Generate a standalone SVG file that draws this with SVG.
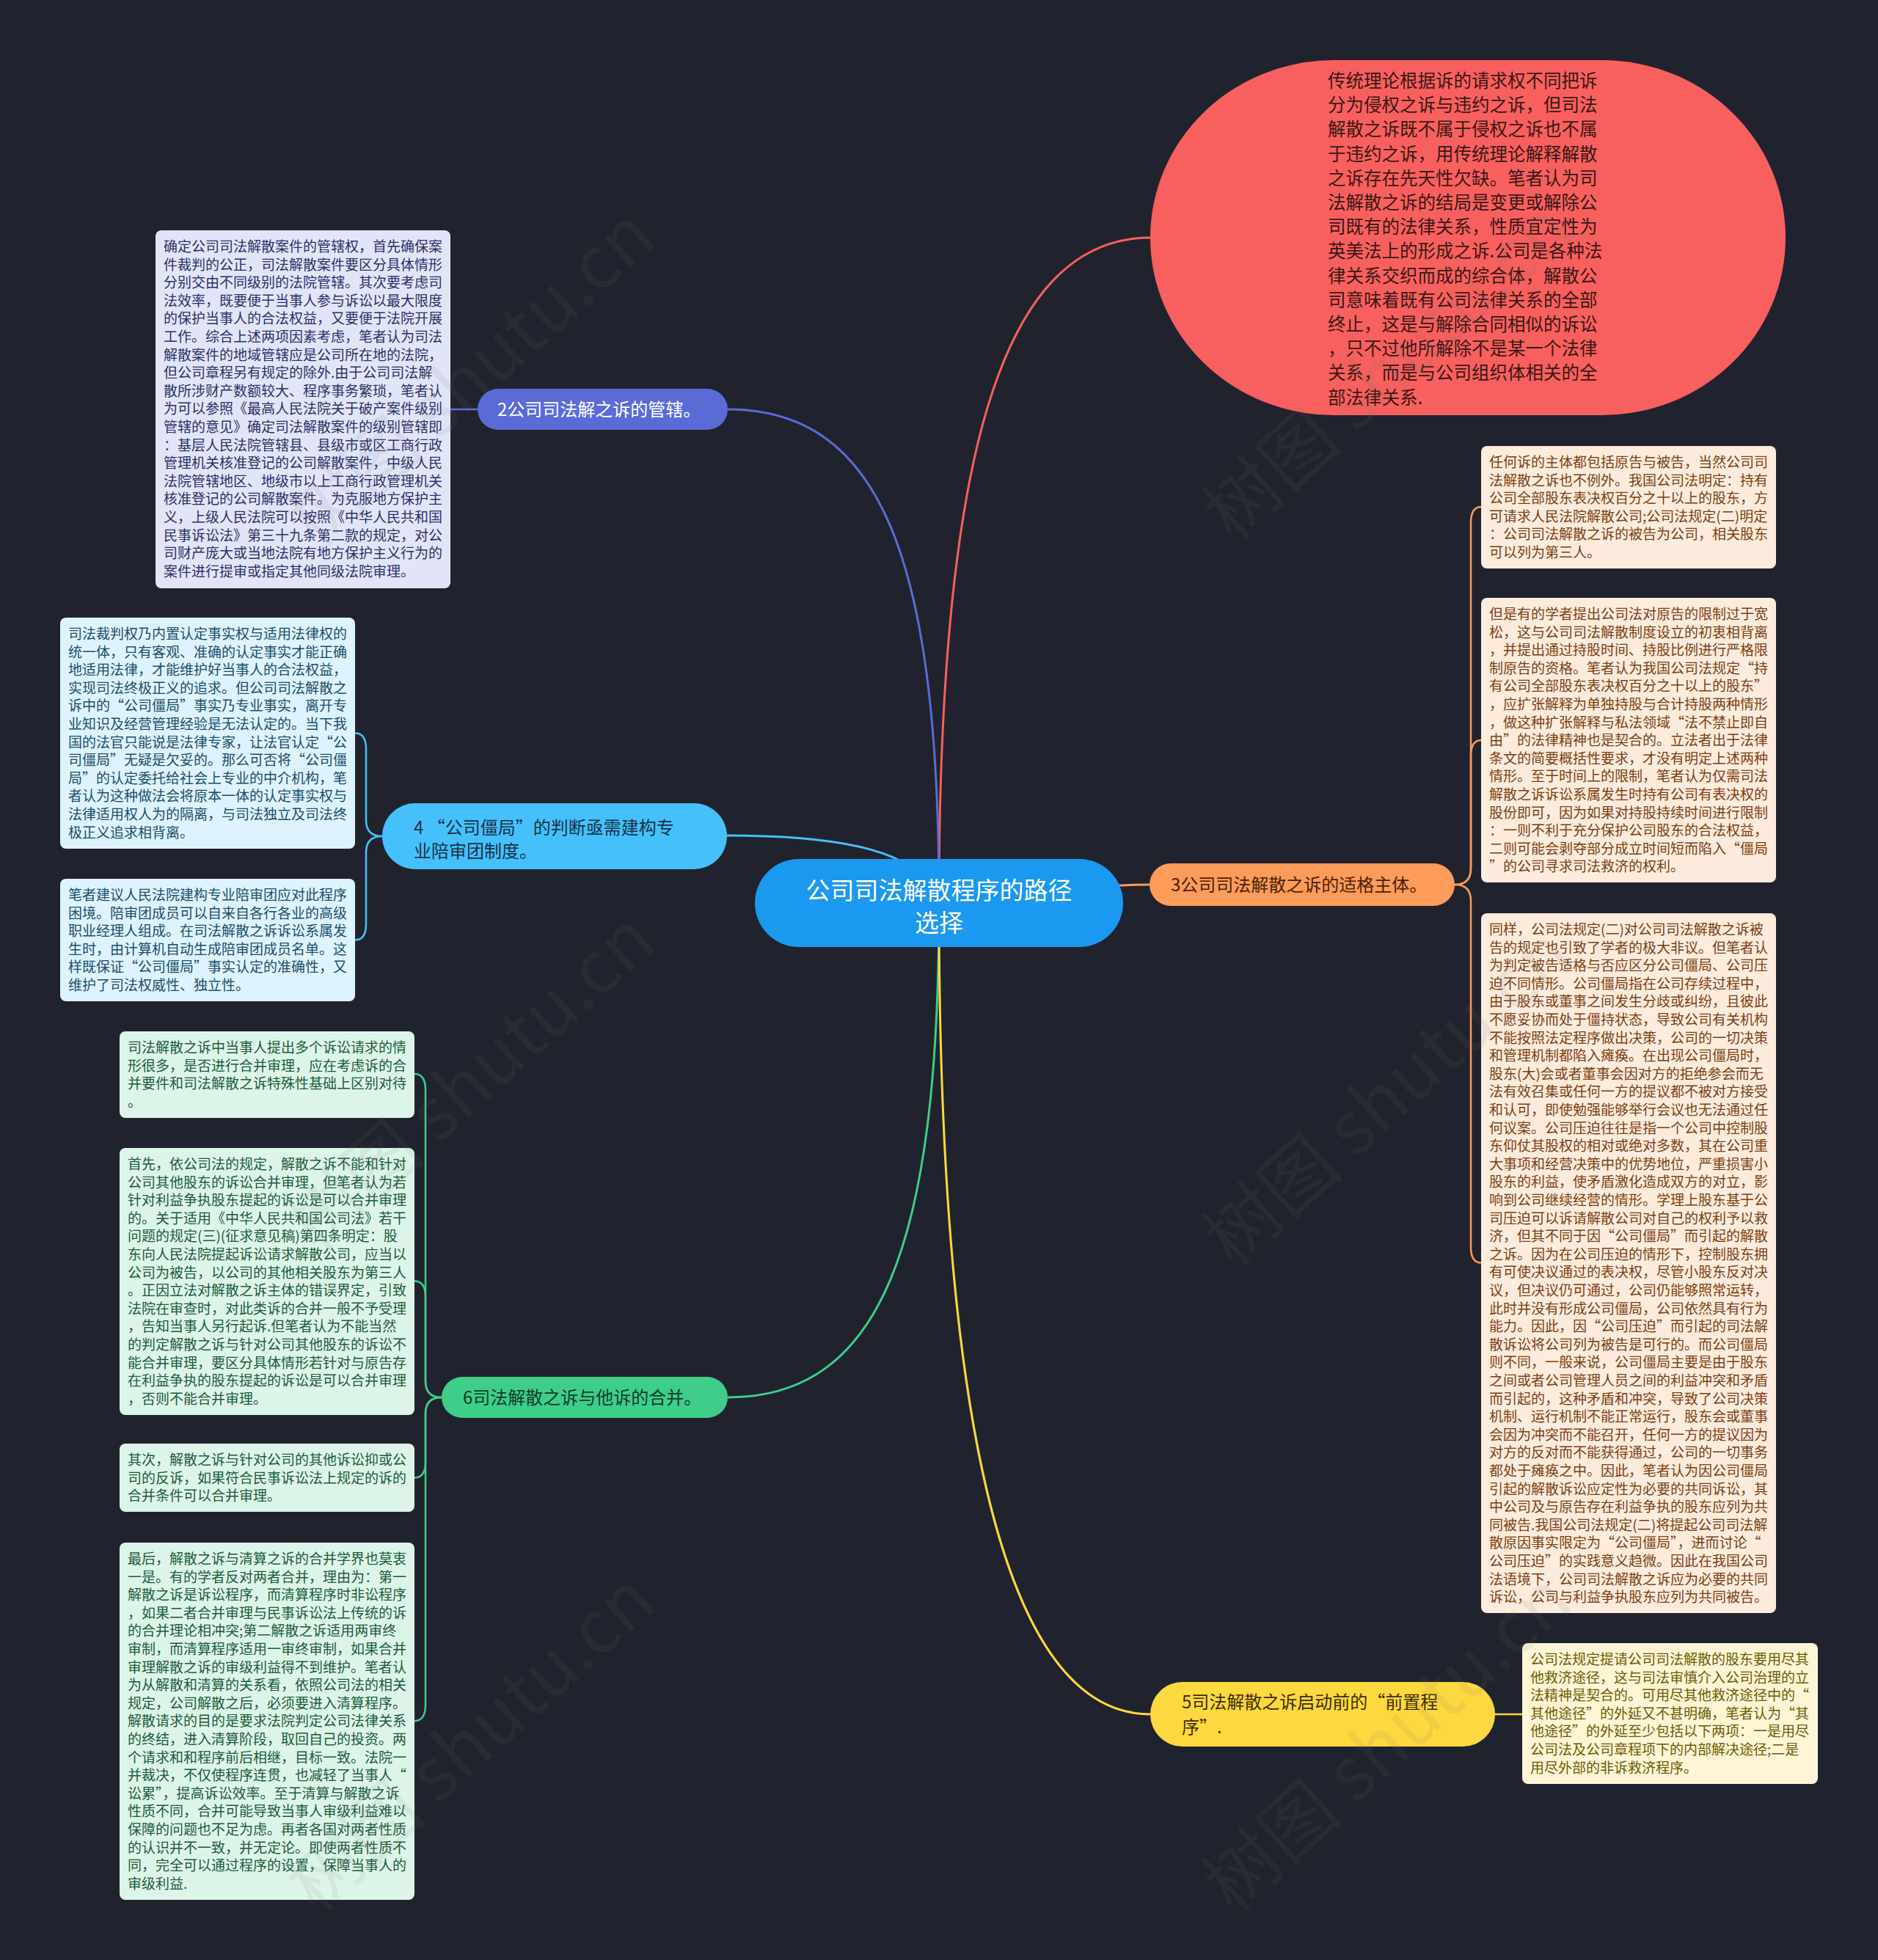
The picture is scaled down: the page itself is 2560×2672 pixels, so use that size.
<svg xmlns="http://www.w3.org/2000/svg" width="2560" height="2672" viewBox="0 0 2560 2672">
<style>
text{font-family:"Noto Sans CJK SC","Liberation Sans",sans-serif;}
.c{fill:none;stroke-width:3;stroke-linecap:round}
.s{fill:none;stroke-width:2.5;stroke-linecap:round}
.nt{font-size:19px}
.bt{font-size:24px}
.wm{font-size:100px;fill:#7a7a7a;fill-opacity:0.1;font-family:"Noto Sans CJK SC","Liberation Sans",sans-serif}
</style>
<rect x="0" y="0" width="2560" height="2672" fill="#20232d"/>
<g id="connectors">
<path class="c" stroke="#f7605e" d="M1280,1231 C1280,640 1360,324 1568,324"/>
<path class="c" stroke="#5b6bd5" d="M1280,1231 C1280,760 1200,558 992,558"/>
<path class="c" stroke="#45c0fb" d="M1280,1231 C1260,1160 1150,1139 991,1139"/>
<path class="c" stroke="#fd9b5a" d="M1280,1231 C1400,1231 1450,1206 1567,1206"/>
<path class="c" stroke="#3fcd8a" d="M1280,1231 C1280,1700 1200,1905 992,1905"/>
<path class="c" stroke="#fdd83e" d="M1280,1231 C1280,1980 1380,2337 1568,2337"/>
<path class="s" stroke="#5b6bd5" d="M651,558 L614,558"/>
<path class="s" stroke="#45c0fb" d="M521,1140 Q499,1140 499,1118 L499,1021 Q499,999.5 484,999.5"/>
<path class="s" stroke="#45c0fb" d="M521,1140 Q499,1140 499,1162 L499,1260 Q499,1281.5 484,1281.5"/>
<path class="s" stroke="#3fcd8a" d="M602,1905 Q580,1905 580,1883 L580,1486 Q580,1464 565,1464"/>
<path class="s" stroke="#3fcd8a" d="M602,1905 Q580,1905 580,1883 L580,1768 Q580,1746.5 565,1746.5"/>
<path class="s" stroke="#3fcd8a" d="M602,1905 Q580,1905 580,1927 L580,1993 Q580,2014.5 565,2014.5"/>
<path class="s" stroke="#3fcd8a" d="M602,1905 Q580,1905 580,1927 L580,2324 Q580,2346 565,2346"/>
<path class="s" stroke="#fd9b5a" d="M1983,1206 Q2005,1206 2005,1184 L2005,713 Q2005,691 2019,691"/>
<path class="s" stroke="#fd9b5a" d="M1983,1206 Q2005,1206 2005,1184 L2005,1031 Q2005,1009 2019,1009"/>
<path class="s" stroke="#fd9b5a" d="M1983,1206 Q2005,1206 2005,1228 L2005,1700 Q2005,1721.5 2019,1721.5"/>
<path class="s" stroke="#fdd83e" d="M2038,2337 L2075,2337"/>
</g>

<g id="center">
<rect x="1029" y="1171" width="502" height="120" rx="60" fill="#1b98ef"/>
<text x="1280" y="1226" font-size="33" fill="#ffffff" text-anchor="middle">公司司法解散程序的路径</text>
<text x="1280" y="1270" font-size="33" fill="#ffffff" text-anchor="middle">选择</text>
</g>

<g id="node-1">
<rect x="1568" y="82" width="866" height="484" rx="250" ry="242" fill="#f7605e"/>
<text x="1810" y="119" font-size="24.5" fill="#3a1616"><tspan x="1810">传统理论根据诉的请求权不同把诉</tspan><tspan x="1810" dy="33.2">分为侵权之诉与违约之诉，但司法</tspan><tspan x="1810" dy="33.2">解散之诉既不属于侵权之诉也不属</tspan><tspan x="1810" dy="33.2">于违约之诉，用传统理论解释解散</tspan><tspan x="1810" dy="33.2">之诉存在先天性欠缺。笔者认为司</tspan><tspan x="1810" dy="33.2">法解散之诉的结局是变更或解除公</tspan><tspan x="1810" dy="33.2">司既有的法律关系，性质宜定性为</tspan><tspan x="1810" dy="33.2">英美法上的形成之诉.公司是各种法</tspan><tspan x="1810" dy="33.2">律关系交织而成的综合体，解散公</tspan><tspan x="1810" dy="33.2">司意味着既有公司法律关系的全部</tspan><tspan x="1810" dy="33.2">终止，这是与解除合同相似的诉讼</tspan><tspan x="1810" dy="33.2">，只不过他所解除不是某一个法律</tspan><tspan x="1810" dy="33.2">关系，而是与公司组织体相关的全</tspan><tspan x="1810" dy="33.2">部法律关系.</tspan></text>
</g>

<g id="node-2">
<rect x="651" y="530" width="341" height="56" rx="28" fill="#5b6bd5"/>
<text class="bt" x="678" y="567" fill="#ffffff">2公司司法解之诉的管辖。</text>
</g>
<g id="note-2a">
<rect x="212" y="314" width="402" height="488" rx="8" fill="#e2e5f8"/>
<text class="nt" x="223" y="343" fill="#2b3066"><tspan x="223">确定公司司法解散案件的管辖权，首先确保案</tspan><tspan x="223" dy="24.6">件裁判的公正，司法解散案件要区分具体情形</tspan><tspan x="223" dy="24.6">分别交由不同级别的法院管辖。其次要考虑司</tspan><tspan x="223" dy="24.6">法效率，既要便于当事人参与诉讼以最大限度</tspan><tspan x="223" dy="24.6">的保护当事人的合法权益，又要便于法院开展</tspan><tspan x="223" dy="24.6">工作。综合上述两项因素考虑，笔者认为司法</tspan><tspan x="223" dy="24.6">解散案件的地域管辖应是公司所在地的法院，</tspan><tspan x="223" dy="24.6">但公司章程另有规定的除外.由于公司司法解</tspan><tspan x="223" dy="24.6">散所涉财产数额较大、程序事务繁琐，笔者认</tspan><tspan x="223" dy="24.6">为可以参照《最高人民法院关于破产案件级别</tspan><tspan x="223" dy="24.6">管辖的意见》确定司法解散案件的级别管辖即</tspan><tspan x="223" dy="24.6">：基层人民法院管辖县、县级市或区工商行政</tspan><tspan x="223" dy="24.6">管理机关核准登记的公司解散案件，中级人民</tspan><tspan x="223" dy="24.6">法院管辖地区、地级市以上工商行政管理机关</tspan><tspan x="223" dy="24.6">核准登记的公司解散案件。为克服地方保护主</tspan><tspan x="223" dy="24.6">义，上级人民法院可以按照《中华人民共和国</tspan><tspan x="223" dy="24.6">民事诉讼法》第三十九条第二款的规定，对公</tspan><tspan x="223" dy="24.6">司财产庞大或当地法院有地方保护主义行为的</tspan><tspan x="223" dy="24.6">案件进行提审或指定其他同级法院审理。</tspan></text>
</g>

<g id="node-4">
<rect x="521" y="1095" width="470" height="90" rx="45" fill="#45c0fb"/>
<text class="bt" x="564" y="1137" fill="#16324a"><tspan x="564">4 “公司僵局”的判断亟需建构专</tspan><tspan x="564" dy="32">业陪审团制度。</tspan></text>
</g>
<g id="note-4a">
<rect x="82" y="842" width="402" height="315" rx="8" fill="#def3fd"/>
<text class="nt" x="93" y="871" fill="#1b4d6b"><tspan x="93">司法裁判权乃内置认定事实权与适用法律权的</tspan><tspan x="93" dy="24.6">统一体，只有客观、准确的认定事实才能正确</tspan><tspan x="93" dy="24.6">地适用法律，才能维护好当事人的合法权益，</tspan><tspan x="93" dy="24.6">实现司法终极正义的追求。但公司司法解散之</tspan><tspan x="93" dy="24.6">诉中的“公司僵局”事实乃专业事实，离开专</tspan><tspan x="93" dy="24.6">业知识及经营管理经验是无法认定的。当下我</tspan><tspan x="93" dy="24.6">国的法官只能说是法律专家，让法官认定“公</tspan><tspan x="93" dy="24.6">司僵局”无疑是欠妥的。那么可否将“公司僵</tspan><tspan x="93" dy="24.6">局”的认定委托给社会上专业的中介机构，笔</tspan><tspan x="93" dy="24.6">者认为这种做法会将原本一体的认定事实权与</tspan><tspan x="93" dy="24.6">法律适用权人为的隔离，与司法独立及司法终</tspan><tspan x="93" dy="24.6">极正义追求相背离。</tspan></text>
</g>
<g id="note-4b">
<rect x="82" y="1198" width="402" height="167" rx="8" fill="#def3fd"/>
<text class="nt" x="93" y="1227" fill="#1b4d6b"><tspan x="93">笔者建议人民法院建构专业陪审团应对此程序</tspan><tspan x="93" dy="24.6">困境。陪审团成员可以自来自各行各业的高级</tspan><tspan x="93" dy="24.6">职业经理人组成。在司法解散之诉诉讼系属发</tspan><tspan x="93" dy="24.6">生时，由计算机自动生成陪审团成员名单。这</tspan><tspan x="93" dy="24.6">样既保证“公司僵局”事实认定的准确性，又</tspan><tspan x="93" dy="24.6">维护了司法权威性、独立性。</tspan></text>
</g>

<g id="node-3">
<rect x="1567" y="1177" width="416" height="58" rx="29" fill="#fd9b5a"/>
<text class="bt" x="1596" y="1215" fill="#4a2208">3公司司法解散之诉的适格主体。</text>
</g>
<g id="note-3a">
<rect x="2019" y="608" width="402" height="167" rx="8" fill="#fdebdd"/>
<text class="nt" x="2030" y="637" fill="#7b3f12"><tspan x="2030">任何诉的主体都包括原告与被告，当然公司司</tspan><tspan x="2030" dy="24.6">法解散之诉也不例外。我国公司法明定：持有</tspan><tspan x="2030" dy="24.6">公司全部股东表决权百分之十以上的股东，方</tspan><tspan x="2030" dy="24.6">可请求人民法院解散公司;公司法规定(二)明定</tspan><tspan x="2030" dy="24.6">：公司司法解散之诉的被告为公司，相关股东</tspan><tspan x="2030" dy="24.6">可以列为第三人。</tspan></text>
</g>
<g id="note-3b">
<rect x="2019" y="815" width="402" height="388" rx="8" fill="#fdebdd"/>
<text class="nt" x="2030" y="844" fill="#7b3f12"><tspan x="2030">但是有的学者提出公司法对原告的限制过于宽</tspan><tspan x="2030" dy="24.6">松，这与公司司法解散制度设立的初衷相背离</tspan><tspan x="2030" dy="24.6">，并提出通过持股时间、持股比例进行严格限</tspan><tspan x="2030" dy="24.6">制原告的资格。笔者认为我国公司法规定“持</tspan><tspan x="2030" dy="24.6">有公司全部股东表决权百分之十以上的股东”</tspan><tspan x="2030" dy="24.6">，应扩张解释为单独持股与合计持股两种情形</tspan><tspan x="2030" dy="24.6">，做这种扩张解释与私法领域“法不禁止即自</tspan><tspan x="2030" dy="24.6">由”的法律精神也是契合的。立法者出于法律</tspan><tspan x="2030" dy="24.6">条文的简要概括性要求，才没有明定上述两种</tspan><tspan x="2030" dy="24.6">情形。至于时间上的限制，笔者认为仅需司法</tspan><tspan x="2030" dy="24.6">解散之诉诉讼系属发生时持有公司有表决权的</tspan><tspan x="2030" dy="24.6">股份即可，因为如果对持股持续时间进行限制</tspan><tspan x="2030" dy="24.6">：一则不利于充分保护公司股东的合法权益，</tspan><tspan x="2030" dy="24.6">二则可能会剥夺部分成立时间短而陷入“僵局</tspan><tspan x="2030" dy="24.6">”的公司寻求司法救济的权利。</tspan></text>
</g>
<g id="note-3c">
<rect x="2019" y="1245" width="402" height="954" rx="8" fill="#fdebdd"/>
<text class="nt" x="2030" y="1274" fill="#7b3f12"><tspan x="2030">同样，公司法规定(二)对公司司法解散之诉被</tspan><tspan x="2030" dy="24.6">告的规定也引致了学者的极大非议。但笔者认</tspan><tspan x="2030" dy="24.6">为判定被告适格与否应区分公司僵局、公司压</tspan><tspan x="2030" dy="24.6">迫不同情形。公司僵局指在公司存续过程中，</tspan><tspan x="2030" dy="24.6">由于股东或董事之间发生分歧或纠纷，且彼此</tspan><tspan x="2030" dy="24.6">不愿妥协而处于僵持状态，导致公司有关机构</tspan><tspan x="2030" dy="24.6">不能按照法定程序做出决策，公司的一切决策</tspan><tspan x="2030" dy="24.6">和管理机制都陷入瘫痪。在出现公司僵局时，</tspan><tspan x="2030" dy="24.6">股东(大)会或者董事会因对方的拒绝参会而无</tspan><tspan x="2030" dy="24.6">法有效召集或任何一方的提议都不被对方接受</tspan><tspan x="2030" dy="24.6">和认可，即使勉强能够举行会议也无法通过任</tspan><tspan x="2030" dy="24.6">何议案。公司压迫往往是指一个公司中控制股</tspan><tspan x="2030" dy="24.6">东仰仗其股权的相对或绝对多数，其在公司重</tspan><tspan x="2030" dy="24.6">大事项和经营决策中的优势地位，严重损害小</tspan><tspan x="2030" dy="24.6">股东的利益，使矛盾激化造成双方的对立，影</tspan><tspan x="2030" dy="24.6">响到公司继续经营的情形。学理上股东基于公</tspan><tspan x="2030" dy="24.6">司压迫可以诉请解散公司对自己的权利予以救</tspan><tspan x="2030" dy="24.6">济，但其不同于因“公司僵局”而引起的解散</tspan><tspan x="2030" dy="24.6">之诉。因为在公司压迫的情形下，控制股东拥</tspan><tspan x="2030" dy="24.6">有可使决议通过的表决权，尽管小股东反对决</tspan><tspan x="2030" dy="24.6">议，但决议仍可通过，公司仍能够照常运转，</tspan><tspan x="2030" dy="24.6">此时并没有形成公司僵局，公司依然具有行为</tspan><tspan x="2030" dy="24.6">能力。因此，因“公司压迫”而引起的司法解</tspan><tspan x="2030" dy="24.6">散诉讼将公司列为被告是可行的。而公司僵局</tspan><tspan x="2030" dy="24.6">则不同，一般来说，公司僵局主要是由于股东</tspan><tspan x="2030" dy="24.6">之间或者公司管理人员之间的利益冲突和矛盾</tspan><tspan x="2030" dy="24.6">而引起的，这种矛盾和冲突，导致了公司决策</tspan><tspan x="2030" dy="24.6">机制、运行机制不能正常运行，股东会或董事</tspan><tspan x="2030" dy="24.6">会因为冲突而不能召开，任何一方的提议因为</tspan><tspan x="2030" dy="24.6">对方的反对而不能获得通过，公司的一切事务</tspan><tspan x="2030" dy="24.6">都处于瘫痪之中。因此，笔者认为因公司僵局</tspan><tspan x="2030" dy="24.6">引起的解散诉讼应定性为必要的共同诉讼，其</tspan><tspan x="2030" dy="24.6">中公司及与原告存在利益争执的股东应列为共</tspan><tspan x="2030" dy="24.6">同被告.我国公司法规定(二)将提起公司司法解</tspan><tspan x="2030" dy="24.6">散原因事实限定为“公司僵局”，进而讨论“</tspan><tspan x="2030" dy="24.6">公司压迫”的实践意义趋微。因此在我国公司</tspan><tspan x="2030" dy="24.6">法语境下，公司司法解散之诉应为必要的共同</tspan><tspan x="2030" dy="24.6">诉讼，公司与利益争执股东应列为共同被告。</tspan></text>
</g>

<g id="node-5">
<rect x="1568" y="2293" width="470" height="88" rx="44" fill="#fdd83e"/>
<text class="bt" x="1611" y="2329" fill="#3d3000"><tspan x="1611">5司法解散之诉启动前的“前置程</tspan><tspan x="1611" dy="34">序”.</tspan></text>
</g>
<g id="note-5a">
<rect x="2075" y="2240" width="403" height="192" rx="8" fill="#fdf5d6"/>
<text class="nt" x="2086" y="2269" fill="#6b5b05"><tspan x="2086">公司法规定提请公司司法解散的股东要用尽其</tspan><tspan x="2086" dy="24.6">他救济途径，这与司法审慎介入公司治理的立</tspan><tspan x="2086" dy="24.6">法精神是契合的。可用尽其他救济途径中的“</tspan><tspan x="2086" dy="24.6">其他途径”的外延又不甚明确，笔者认为“其</tspan><tspan x="2086" dy="24.6">他途径”的外延至少包括以下两项：一是用尽</tspan><tspan x="2086" dy="24.6">公司法及公司章程项下的内部解决途径;二是</tspan><tspan x="2086" dy="24.6">用尽外部的非诉救济程序。</tspan></text>
</g>

<g id="node-6">
<rect x="602" y="1877" width="390" height="56" rx="28" fill="#3fcd8a"/>
<text class="bt" x="631" y="1914" fill="#0e3d25">6司法解散之诉与他诉的合并。</text>
</g>
<g id="note-6a">
<rect x="163" y="1406" width="402" height="118" rx="8" fill="#ddf5e8"/>
<text class="nt" x="174" y="1435" fill="#1c5a3a"><tspan x="174">司法解散之诉中当事人提出多个诉讼请求的情</tspan><tspan x="174" dy="24.6">形很多，是否进行合并审理，应在考虑诉的合</tspan><tspan x="174" dy="24.6">并要件和司法解散之诉特殊性基础上区别对待</tspan><tspan x="174" dy="24.6">。</tspan></text>
</g>
<g id="note-6b">
<rect x="163" y="1565" width="402" height="364" rx="8" fill="#ddf5e8"/>
<text class="nt" x="174" y="1594" fill="#1c5a3a"><tspan x="174">首先，依公司法的规定，解散之诉不能和针对</tspan><tspan x="174" dy="24.6">公司其他股东的诉讼合并审理，但笔者认为若</tspan><tspan x="174" dy="24.6">针对利益争执股东提起的诉讼是可以合并审理</tspan><tspan x="174" dy="24.6">的。关于适用《中华人民共和国公司法》若干</tspan><tspan x="174" dy="24.6">问题的规定(三)(征求意见稿)第四条明定：股</tspan><tspan x="174" dy="24.6">东向人民法院提起诉讼请求解散公司，应当以</tspan><tspan x="174" dy="24.6">公司为被告，以公司的其他相关股东为第三人</tspan><tspan x="174" dy="24.6">。正因立法对解散之诉主体的错误界定，引致</tspan><tspan x="174" dy="24.6">法院在审查时，对此类诉的合并一般不予受理</tspan><tspan x="174" dy="24.6">，告知当事人另行起诉.但笔者认为不能当然</tspan><tspan x="174" dy="24.6">的判定解散之诉与针对公司其他股东的诉讼不</tspan><tspan x="174" dy="24.6">能合并审理，要区分具体情形若针对与原告存</tspan><tspan x="174" dy="24.6">在利益争执的股东提起的诉讼是可以合并审理</tspan><tspan x="174" dy="24.6">，否则不能合并审理。</tspan></text>
</g>
<g id="note-6c">
<rect x="163" y="1968" width="402" height="93" rx="8" fill="#ddf5e8"/>
<text class="nt" x="174" y="1997" fill="#1c5a3a"><tspan x="174">其次，解散之诉与针对公司的其他诉讼抑或公</tspan><tspan x="174" dy="24.6">司的反诉，如果符合民事诉讼法上规定的诉的</tspan><tspan x="174" dy="24.6">合并条件可以合并审理。</tspan></text>
</g>
<g id="note-6d">
<rect x="163" y="2103" width="402" height="487" rx="8" fill="#ddf5e8"/>
<text class="nt" x="174" y="2132" fill="#1c5a3a"><tspan x="174">最后，解散之诉与清算之诉的合并学界也莫衷</tspan><tspan x="174" dy="24.6">一是。有的学者反对两者合并，理由为：第一</tspan><tspan x="174" dy="24.6">解散之诉是诉讼程序，而清算程序时非讼程序</tspan><tspan x="174" dy="24.6">，如果二者合并审理与民事诉讼法上传统的诉</tspan><tspan x="174" dy="24.6">的合并理论相冲突;第二解散之诉适用两审终</tspan><tspan x="174" dy="24.6">审制，而清算程序适用一审终审制，如果合并</tspan><tspan x="174" dy="24.6">审理解散之诉的审级利益得不到维护。笔者认</tspan><tspan x="174" dy="24.6">为从解散和清算的关系看，依照公司法的相关</tspan><tspan x="174" dy="24.6">规定，公司解散之后，必须要进入清算程序。</tspan><tspan x="174" dy="24.6">解散请求的目的是要求法院判定公司法律关系</tspan><tspan x="174" dy="24.6">的终结，进入清算阶段，取回自己的投资。两</tspan><tspan x="174" dy="24.6">个请求和和程序前后相继，目标一致。法院一</tspan><tspan x="174" dy="24.6">并裁决，不仅使程序连贯，也减轻了当事人“</tspan><tspan x="174" dy="24.6">讼累”，提高诉讼效率。至于清算与解散之诉</tspan><tspan x="174" dy="24.6">性质不同，合并可能导致当事人审级利益难以</tspan><tspan x="174" dy="24.6">保障的问题也不足为虑。再者各国对两者性质</tspan><tspan x="174" dy="24.6">的认识并不一致，并无定论。即使两者性质不</tspan><tspan x="174" dy="24.6">同，完全可以通过程序的设置，保障当事人的</tspan><tspan x="174" dy="24.6">审级利益.</tspan></text>
</g>

<g id="watermarks">
<text class="wm" x="665" y="540" text-anchor="middle" transform="rotate(-42 665 540)">树图 shutu.cn</text>
<text class="wm" x="1915" y="530" text-anchor="middle" transform="rotate(-42 1915 530)">树图 shutu.cn</text>
<text class="wm" x="665" y="1500" text-anchor="middle" transform="rotate(-42 665 1500)">树图 shutu.cn</text>
<text class="wm" x="1915" y="1520" text-anchor="middle" transform="rotate(-42 1915 1520)">树图 shutu.cn</text>
<text class="wm" x="665" y="2400" text-anchor="middle" transform="rotate(-42 665 2400)">树图 shutu.cn</text>
<text class="wm" x="1915" y="2400" text-anchor="middle" transform="rotate(-42 1915 2400)">树图 shutu.cn</text>
</g>
</svg>
